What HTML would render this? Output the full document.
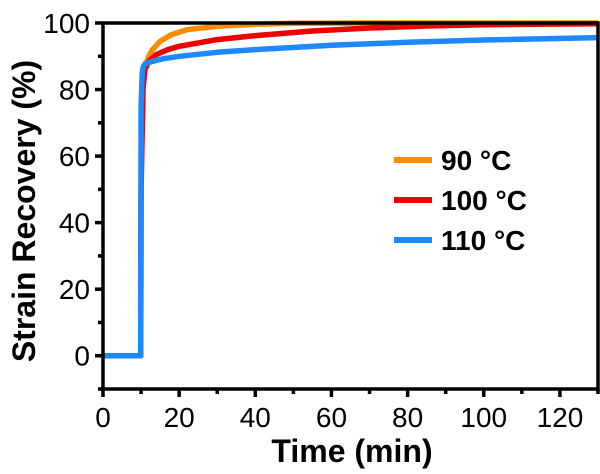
<!DOCTYPE html>
<html><head><meta charset="utf-8"><style>
body{margin:0;background:#fff}
svg text{font-family:"Liberation Sans",Arial,sans-serif}
</style></head><body>
<svg width="600" height="469" id="chart"></svg>
<script>
const xTicks=[0,20,40,60,80,100,120];
const yTicks=[0,20,40,60,80,100];
const seriesNames=["90 °C","100 °C","110 °C"];
const seriesColors=["#ff8c00","#ee0000","#1e88ff"];
const t90=[0,9.9,10,10.5,11,12,13,15,18,22,30,40,50,70,130];
const v90=[0,0,60,82,87,90,92,94.5,96.5,98,99,99.6,99.9,100,100];
const t100=[0,9.9,10,10.5,11,12,14,17,20,30,40,55,70,85,100,130];
const v100=[0,0,50,80,86,88.5,90.5,92,93,95,96.2,97.6,98.5,99.1,99.5,99.8];
const t110=[0,9.9,10,10.3,10.6,11,13,16,20,30,40,60,80,100,130];
const v110=[0,0,75,85,87,87.7,88.5,89.3,90,91.2,92,93.3,94.2,94.9,95.6];
const tSeries=[t90,t100,t110], vSeries=[v90,v100,v110];
const NS="http://www.w3.org/2000/svg", svg=document.getElementById('chart');
const X0=103,X1=598,Y0=389,Y1=23, xmin=0,xmax=130,ymin=-10,ymax=100;
const sx=v=>X0+(v-xmin)/(xmax-xmin)*(X1-X0);
const sy=v=>Y0-(v-ymin)/(ymax-ymin)*(Y0-Y1);
function el(tag,attrs,parent){const e=document.createElementNS(NS,tag);for(const k in attrs)e.setAttribute(k,attrs[k]);(parent||svg).appendChild(e);return e;}
for(let s=0;s<3;s++){
 const d=tSeries[s].map((t,i)=>(i?'L':'M')+sx(t).toFixed(1)+','+sy(vSeries[s][i]).toFixed(1)).join('');
 const p=el('path',{d:d,fill:'none',stroke:seriesColors[s],'stroke-width':5.5,'stroke-linejoin':'round'});
 
 
}
const f=el('rect',{x:X0,y:Y1,width:X1-X0,height:Y0-Y1,fill:'none',stroke:'#000','stroke-width':3.5});


for(let v=0;v<=130;v+=10){
 const maj=v%20===0;
 const tk=el('line',{x1:sx(v),x2:sx(v),y1:Y0,y2:Y0+(maj?8:5),stroke:'#000','stroke-width':3.5});
 
 
}
xTicks.forEach(v=>{const t=el('text',{x:sx(v),y:427,'font-size':28,'text-anchor':'middle'});t.textContent=v;
 
 });
for(let v=-10;v<=100;v+=10){
 const maj=v%20===0;
 const tk=el('line',{x1:X0,x2:X0-(maj?8:5),y1:sy(v),y2:sy(v),stroke:'#000','stroke-width':3.5});
 
 
}
yTicks.forEach(v=>{const t=el('text',{x:90,y:sy(v)+10,'font-size':28,'text-anchor':'end'});t.textContent=v;
 
 });
const xt=el('text',{x:352,y:462,'font-size':32,'font-weight':'bold','text-anchor':'middle'});xt.textContent='Time (min)';


const yt=el('text',{x:0,y:0,'font-size':32,'font-weight':'bold','text-anchor':'middle',transform:'translate(35,211) rotate(-90)'});yt.textContent='Strain Recovery (%)';


for(let s=0;s<3;s++){
 const y=160+s*40;
 const g=el('g',{});
 
 
 el('line',{x1:394,x2:432,y1:y,y2:y,stroke:seriesColors[s],'stroke-width':6},g);
 const t=el('text',{x:441,y:y+10,'font-size':28,'font-weight':'bold'},g);t.textContent=seriesNames[s];
}
</script>
</body></html>
